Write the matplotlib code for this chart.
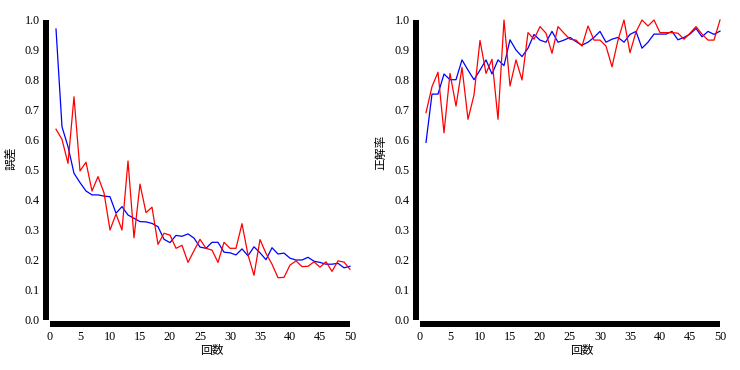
import numpy as np
import matplotlib
matplotlib.use('Agg')
import matplotlib.pyplot as plt

epochs = np.arange(1, 51)

# 誤差 (left)
loss_blue = [0.97, 0.644, 0.578, 0.489, 0.458, 0.43, 0.417, 0.417, 0.413, 0.411,
             0.356, 0.378, 0.35, 0.339, 0.328, 0.327, 0.322, 0.311, 0.269, 0.258,
             0.282, 0.279, 0.287, 0.273, 0.243, 0.239, 0.259, 0.259, 0.226, 0.224,
             0.217, 0.237, 0.214, 0.244, 0.224, 0.201, 0.241, 0.22, 0.223, 0.206,
             0.2, 0.2, 0.209, 0.196, 0.192, 0.186, 0.186, 0.189, 0.174, 0.179]
loss_red = [0.636, 0.602, 0.522, 0.744, 0.497, 0.526, 0.43, 0.478, 0.424, 0.30,
            0.353, 0.30, 0.53, 0.274, 0.453, 0.358, 0.376, 0.252, 0.289, 0.283,
            0.239, 0.249, 0.192, 0.231, 0.269, 0.239, 0.233, 0.192, 0.259, 0.239,
            0.239, 0.321, 0.217, 0.149, 0.268, 0.222, 0.186, 0.141, 0.142, 0.183,
            0.197, 0.178, 0.179, 0.194, 0.176, 0.194, 0.162, 0.197, 0.193, 0.169]

# 正解率 (right)
acc_blue = [0.592, 0.753, 0.753, 0.82, 0.801, 0.801, 0.867, 0.833, 0.801, 0.833,
            0.867, 0.82, 0.867, 0.848, 0.934, 0.90, 0.878, 0.906, 0.952, 0.933,
            0.926, 0.962, 0.926, 0.933, 0.942, 0.928, 0.916, 0.926, 0.942, 0.962,
            0.926, 0.936, 0.942, 0.926, 0.952, 0.962, 0.906, 0.926, 0.953, 0.953,
            0.953, 0.962, 0.934, 0.942, 0.953, 0.972, 0.944, 0.962, 0.952, 0.963]
acc_red = [0.691, 0.778, 0.826, 0.624, 0.822, 0.713, 0.842, 0.669, 0.75, 0.932,
           0.822, 0.869, 0.669, 1.0, 0.78, 0.867, 0.80, 0.958, 0.936, 0.978,
           0.956, 0.889, 0.978, 0.956, 0.936, 0.933, 0.913, 0.98, 0.933, 0.933,
           0.913, 0.844, 0.933, 1.0, 0.891, 0.96, 1.0, 0.98, 1.0, 0.958,
           0.958, 0.958, 0.956, 0.936, 0.956, 0.978, 0.953, 0.933, 0.933, 1.0]

x_ticks = np.arange(0, 51, 5)
y_ticks = np.arange(0, 1.01, 0.1)

serif = 'Liberation Serif'
cjk = ['Noto Sans CJK JP', 'DejaVu Sans']

fig = plt.figure(figsize=(7.4, 3.7), dpi=100)
W, H = 740.0, 370.0


def make_axes(left_px, ylabel):
    ax = fig.add_axes([left_px / W, 1 - 320 / H, 300 / W, 300 / H])
    ax.set_xlim(0, 50)
    ax.set_ylim(0, 1)
    for s in ['top', 'right']:
        ax.spines[s].set_visible(False)
    for s in ['left', 'bottom']:
        ax.spines[s].set_linewidth(4.32)
        ax.spines[s].set_position(('outward', 3))
        ax.spines[s].set_capstyle('butt')
    ax.set_xticks(x_ticks)
    ax.set_yticks(y_ticks)
    ax.set_yticklabels(['%.1f' % v for v in y_ticks])
    ax.tick_params(axis='both', length=0, labelsize=8.7)
    ax.tick_params(axis='x', pad=5)
    ax.tick_params(axis='y', pad=4.3)
    for lab in ax.get_xticklabels() + ax.get_yticklabels():
        lab.set_fontfamily(serif)
    ax.text(0.5, -0.103, '回数', transform=ax.transAxes, ha='left',
            va='center', fontsize=8.5, family=cjk)
    ax.text(-0.13, 0.5, ylabel, transform=ax.transAxes, ha='center',
            va='bottom', rotation=90, fontsize=8.5, family=cjk)
    return ax


ax1 = make_axes(50, '誤差')
ax1.plot(epochs, loss_blue, color='#0000ff', lw=0.9, clip_on=False)
ax1.plot(epochs, loss_red, color='#ff0000', lw=0.9, clip_on=False)

ax2 = make_axes(420, '正解率')
ax2.plot(epochs, acc_blue, color='#0000ff', lw=0.9, clip_on=False)
ax2.plot(epochs, acc_red, color='#ff0000', lw=0.9, clip_on=False)

fig.savefig('out.png', dpi=100)
